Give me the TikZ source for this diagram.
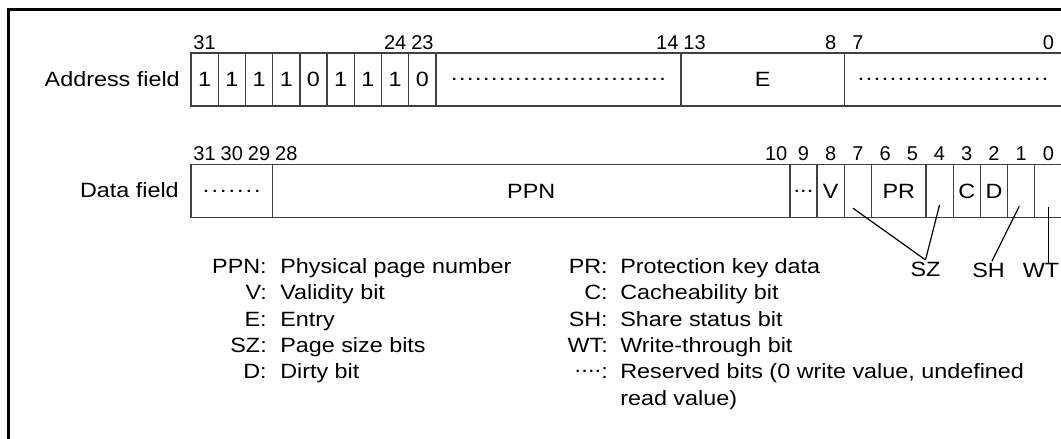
\documentclass[tikz,border=0pt]{standalone}
\usepackage{fontspec}
\setmainfont{Liberation Sans}[FakeStretch=1.13]
\newfontfamily\numfont{Liberation Sans}
\usetikzlibrary{positioning}
\tikzset{frame/.style={line width=1.95pt},
  field/.style={draw=black!75,line width=1pt},
  ftext/.style={inner sep=0pt,font=\fontsize{15.5pt}{18pt}\selectfont},
  bitnum/.style={inner sep=0pt,anchor=base,font=\numfont\fontsize{15pt}{18pt}\selectfont},
  lead/.style={line width=0.9pt},
  lkey/.style={ftext,anchor=base east},
  ldesc/.style={ftext,anchor=base west},
}
\newcommand{\rsvd}[2]{\hbox to #1\dimexpr#2\relax{\leaders\hbox to #2{\hss.\hss}\hfill}}
\newcommand{\bitfield}[5][53]{%
    \draw[field] ({31-#3},#1) rectangle ({32-#4},#1+53);
    \node[ftext] (#2) at ({(63-#3-#4)/2},#1+26.5) {#5};
}
\begin{document}
\begin{tikzpicture}[x=0.75pt,y=-0.75pt]
    \clip (0,0) rectangle (1061,439);
    \draw[frame] (1070,9.5) -- (8.5,9.5) -- (8.5,450);

    \node[ftext,anchor=east] (addrlbl) at (180,79.5) {Address field};
    \node[ftext,anchor=east] (datalbl) at (179,190.5) {Data field};

    \begin{scope}[shift={(191,0)},x=20.415pt]
        \foreach \b/\v in {31/1,30/1,29/1,28/1,27/0,26/1,25/1,24/1,23/0}
            {\bitfield{ab\b}{\b}{\b}{\v}}
        \bitfield{arsv}{22}{14}{\rsvd{27}{6pt}}
        \bitfield{fe}{13}{8}{E}
        \bitfield{arsvb}{7}{0}{\rsvd{24}{6pt}}
        \foreach \b in {31,24,23,14,13,8,7,0}
            \node[bitnum] (an\b) at ({31.5-\b},49) {\b};

        \bitfield[164.5]{drsv}{31}{29}{\rsvd{7}{6.4pt}}
        \bitfield[164.5]{ppn}{28}{10}{PPN}
        \bitfield[164.5]{drsvb}{9}{9}{\rsvd{3}{5pt}}
        \bitfield[164.5]{fv}{8}{8}{V}
        \bitfield[164.5]{szhi}{7}{7}{}
        \bitfield[164.5]{pr}{6}{5}{PR}
        \bitfield[164.5]{szlo}{4}{4}{}
        \bitfield[164.5]{fc}{3}{3}{C}
        \bitfield[164.5]{fd}{2}{2}{D}
        \bitfield[164.5]{fsh}{1}{1}{}
        \bitfield[164.5]{fwt}{0}{0}{}
        \foreach \b in {31,30,29,28,10,9,8,7,6,5,4,3,2,1,0}
            \node[bitnum] (dn\b) at ({31.5-\b},160) {\b};
    \end{scope}

    \node[ftext] (szlbl) at (925.5,269.5) {SZ};
    \node[ftext] (shlbl) at (988.5,270) {SH};
    \node[ftext] (wtlbl) at (1041,270) {WT};
    \draw[lead] ([xshift=-3.7pt,yshift=-12.9pt]szhi.center) -- ([yshift=1.5pt]szlbl.north);
    \draw[lead] ([yshift=-10.5pt]szlo.center) -- ([yshift=1.5pt]szlbl.north);
    \draw[lead] ([xshift=-1.5pt,yshift=-11.4pt]fsh.center) -- ([xshift=2.6pt,yshift=1pt]shlbl.north);
    \draw[lead] ([yshift=-12pt]fwt.center) coordinate (wttop) -- (wttop |- wtlbl.north);

    \foreach \lk/\ld [count=\i from 0] in {PPN/Physical page number,V/Validity bit,
        E/Entry,SZ/Page size bits,D/Dirty bit}{
        \node[lkey] (lkey\lk) at (267,273.5+26.3*\i) {\lk:};
        \node[ldesc] (ldesc\lk) at (280,273.5+26.3*\i) {\ld};
    }
    \foreach \lk/\ld [count=\i from 0] in {PR/Protection key data,C/Cacheability bit,
        SH/Share status bit,WT/Write-through bit}{
        \node[lkey] (rkey\lk) at (608,273.5+26.3*\i) {\lk:};
        \node[ldesc] (rdesc\lk) at (620,273.5+26.3*\i) {\ld};
    }
    \node[lkey] (rkeyrsv) at (608,378.7) {\raisebox{0.28em}{\rsvd{4}{5pt}}:};
    \node[ldesc] (rdescrsv) at (620,378.7) {Reserved bits (0 write value, undefined};
    \node[ldesc] (rdescrd) at (620,405) {read value)};
\end{tikzpicture}
\end{document}
